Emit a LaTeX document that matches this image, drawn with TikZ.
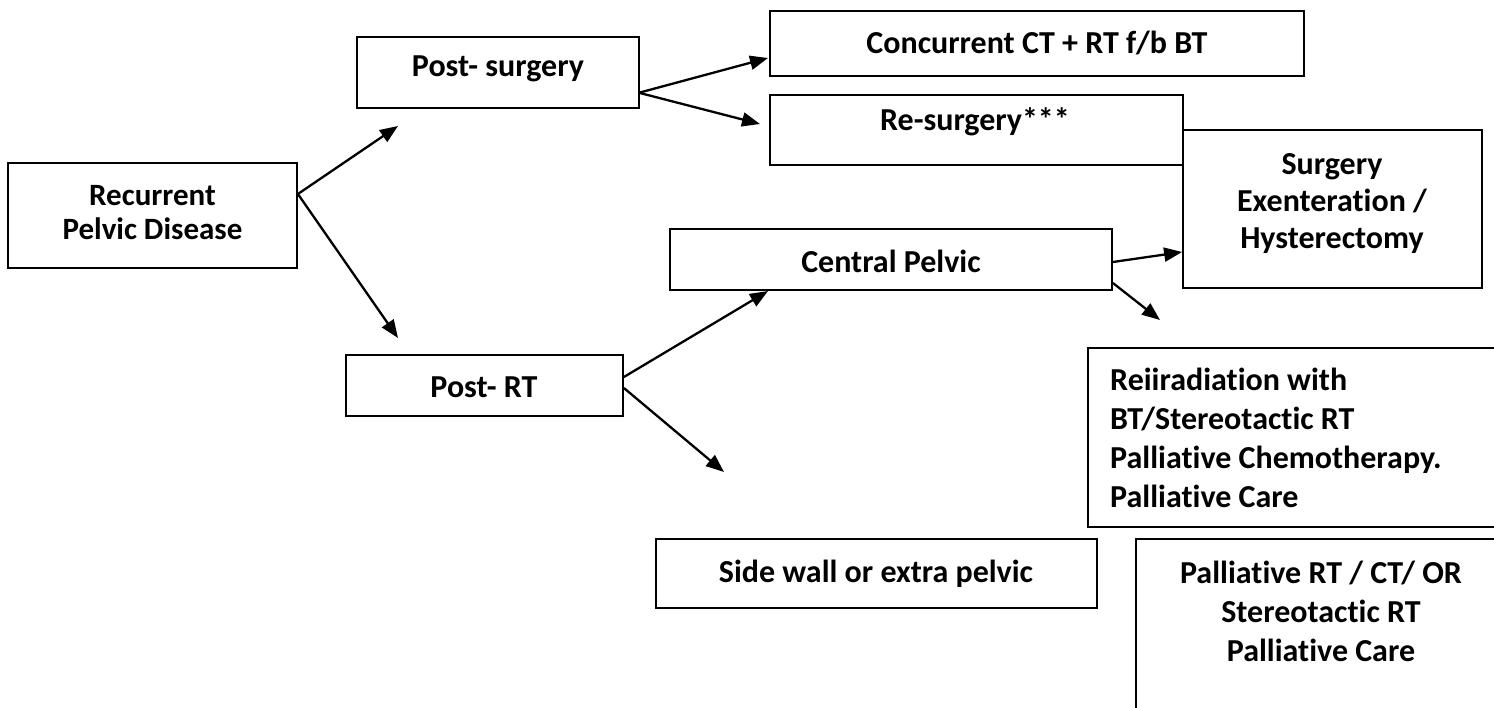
\documentclass[tikz,border=0pt]{standalone}
\usepackage{fontspec}
\setmainfont{Carlito}[Ligatures=NoCommon]
\usetikzlibrary{arrows.meta}
\tikzset{
  box/.style={draw, line width=1.8pt, inner sep=0pt},
  txt/.style={font=\bfseries\fontsize{32}{39}\selectfont, inner sep=0pt, text height=20.5pt, text depth=0pt},
  mtxt/.style={font=\bfseries\fontsize{32}{39}\selectfont, inner sep=0pt, align=center},
  arr/.style={line width=2.3pt, -{Triangle[length=18pt,width=14pt]}}
}
\begin{document}
\begin{tikzpicture}[x=1pt,y=-1pt]
\useasboundingbox (0,0) rectangle (1494,707);
\fill[white] (0,0) rectangle (1494,707);
\clip (0,0) rectangle (1494,707);
% boxes
\node[box, minimum width=289pt, minimum height=105pt] (rec) at (152.5,215.5) {};
\node[box, minimum width=282pt, minimum height=71pt] (ps) at (498,72.5) {};
\node[box, minimum width=534pt, minimum height=65pt] (conc) at (1037,43.5) {};
\node[box, minimum width=413pt, minimum height=70pt] (resurg) at (976.5,130) {};
\node[box, minimum width=299pt, minimum height=158pt] (surg) at (1332.5,209) {};
\node[box, minimum width=277pt, minimum height=61pt] (prt) at (484.5,385.5) {};
\node[box, minimum width=442pt, minimum height=61pt] (cent) at (891,259.5) {};
\node[box, minimum width=441pt, minimum height=69pt] (side) at (876.5,573.5) {};
\node[box, minimum width=422pt, minimum height=179pt] (reir) at (1299,437.5) {};
\node[box, minimum width=370pt, minimum height=221pt] (pal) at (1321,649.5) {};
% texts
\node[mtxt, font=\bfseries\fontsize{31}{34}\selectfont] (rec-t) at (152.5,213) {Recurrent\\Pelvic Disease};
\node[txt] (ps-t) at (498,66) {Post- surgery};
\node[txt] (conc-t) at (1037,43) {Concurrent CT + RT f/b BT};
\node[txt] (resurg-t) at (975,120) {Re-surgery***};
\node[mtxt, font=\bfseries\fontsize{32}{37}\selectfont] (surg-t) at (1332,204) {Surgery\\Exenteration /\\Hysterectomy};
\node[txt] (prt-t) at (484,387) {Post- RT};
\node[txt] (cent-t) at (891,262) {Central Pelvic};
\node[txt] (side-t) at (876,572) {Side wall or extra pelvic};
\node[mtxt, align=left, anchor=west] (reir-t) at (1110,438) {Reiiradiation with\\BT/Stereotactic RT\\Palliative Chemotherapy.\\Palliative Care};
\node[mtxt] (pal-t) at (1321,611) {Palliative RT / CT/ OR\\Stereotactic RT\\Palliative Care};
% free arrow ends
\coordinate (cA) at (398,126);
\coordinate (cB) at (398,338);
\coordinate (cC) at (768,58);
\coordinate (cD) at (760,124);
\coordinate (cE) at (768,291);
\coordinate (cF) at (724,472);
\coordinate (cG) at (1160,320);
% connectors
\draw[arr] ([yshift=21.5pt]rec.east) -- (cA);
\draw[arr] ([yshift=21.5pt]rec.east) -- (cB);
\draw[arr] ([yshift=-20pt]ps.east) -- (cC);
\draw[arr] ([yshift=-20.5pt]ps.east) -- (cD);
\draw[arr] ([yshift=8.5pt]prt.east) -- (cE);
\draw[arr] ([yshift=-2.5pt]prt.east) -- (cF);
\draw[arr] ([yshift=-2.5pt]cent.east) -- ([yshift=-43pt]surg.west);
\draw[arr] ([yshift=-23.5pt]cent.east) -- (cG);
\end{tikzpicture}
\end{document}
